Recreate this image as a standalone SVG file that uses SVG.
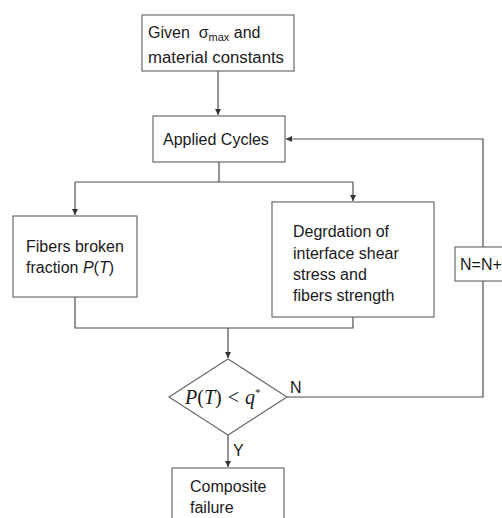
<svg xmlns="http://www.w3.org/2000/svg" width="502" height="518" viewBox="0 0 502 518">
<style>
.box{fill:#fff;stroke:#6a6a6a;stroke-width:1.2}
.ln{fill:none;stroke:#4d4d4d;stroke-width:1.2}
.t{font-family:"Liberation Sans",Arial,sans-serif;font-size:16px;fill:#1a1a1a}
.m{font-family:"Liberation Serif","Times New Roman",serif;font-size:20px;fill:#1a1a1a}
.i{font-style:italic}
</style>
<defs>
<marker id="ah" viewBox="0 0 6 6" refX="6" refY="3" markerWidth="6" markerHeight="6" markerUnits="userSpaceOnUse" orient="auto"><path d="M0,0 L6,3 L0,6 z" fill="#333"/></marker>
</defs>
<rect width="502" height="518" fill="#fff"/>
<g id="connectors">
<path class="ln" d="M218,71 V115" marker-end="url(#ah)"/>
<path class="ln" d="M219,162 V182 M75,182 H353"/>
<path class="ln" d="M75,182 V215" marker-end="url(#ah)"/>
<path class="ln" d="M353,182 V201" marker-end="url(#ah)"/>
<path class="ln" d="M75,297 V328 H353 V317"/>
<path class="ln" d="M228,328 V358" marker-end="url(#ah)"/>
<path class="ln" d="M287,397 H483 V139 H286" marker-end="url(#ah)"/>
<path class="ln" d="M228,435 V467" marker-end="url(#ah)"/>
<text class="t" x="290" y="393">N</text>
<text class="t" x="233" y="456">Y</text>
</g>
<g id="given">
<rect class="box" x="142" y="15" width="152" height="56"/>
<text class="t" x="148" y="38" xml:space="preserve">Given  σ<tspan font-size="11" dy="3">max</tspan><tspan dy="-3"> and</tspan></text>
<text class="t" x="148" y="63" textLength="136" lengthAdjust="spacingAndGlyphs">material constants</text>
</g>
<g id="applied">
<rect class="box" x="153" y="116" width="132" height="46"/>
<text class="t" x="163" y="145">Applied Cycles</text>
</g>
<g id="fibers">
<rect class="box" x="13" y="216" width="124" height="81"/>
<text class="t" x="26" y="252">Fibers broken</text>
<text class="t" x="26" y="273">fraction <tspan class="i">P</tspan>(<tspan class="i">T</tspan>)</text>
</g>
<g id="degradation">
<rect class="box" x="272" y="202" width="162" height="115"/>
<text class="t" x="293" y="237">Degrdation of</text>
<text class="t" x="293" y="259">interface shear</text>
<text class="t" x="293" y="280">stress and</text>
<text class="t" x="293" y="301">fibers strength</text>
</g>
<g id="decision">
<path class="box" d="M228,359 L287,397 L228,435 L169,397 Z"/>
<text class="m" x="185" y="404"><tspan class="i">P</tspan>(<tspan class="i">T</tspan>) <tspan dx="1">&lt;</tspan> <tspan class="i" dx="1">q</tspan><tspan font-size="11" dy="-8">*</tspan></text>
</g>
<g id="increment">
<rect class="box" x="455" y="247" width="60" height="34"/>
<text class="t" x="460" y="270">N=N+1</text>
</g>
<g id="failure">
<rect class="box" x="172" y="468" width="112" height="60"/>
<text class="t" x="190" y="492">Composite</text>
<text class="t" x="190" y="513">failure</text>
</g>
</svg>
